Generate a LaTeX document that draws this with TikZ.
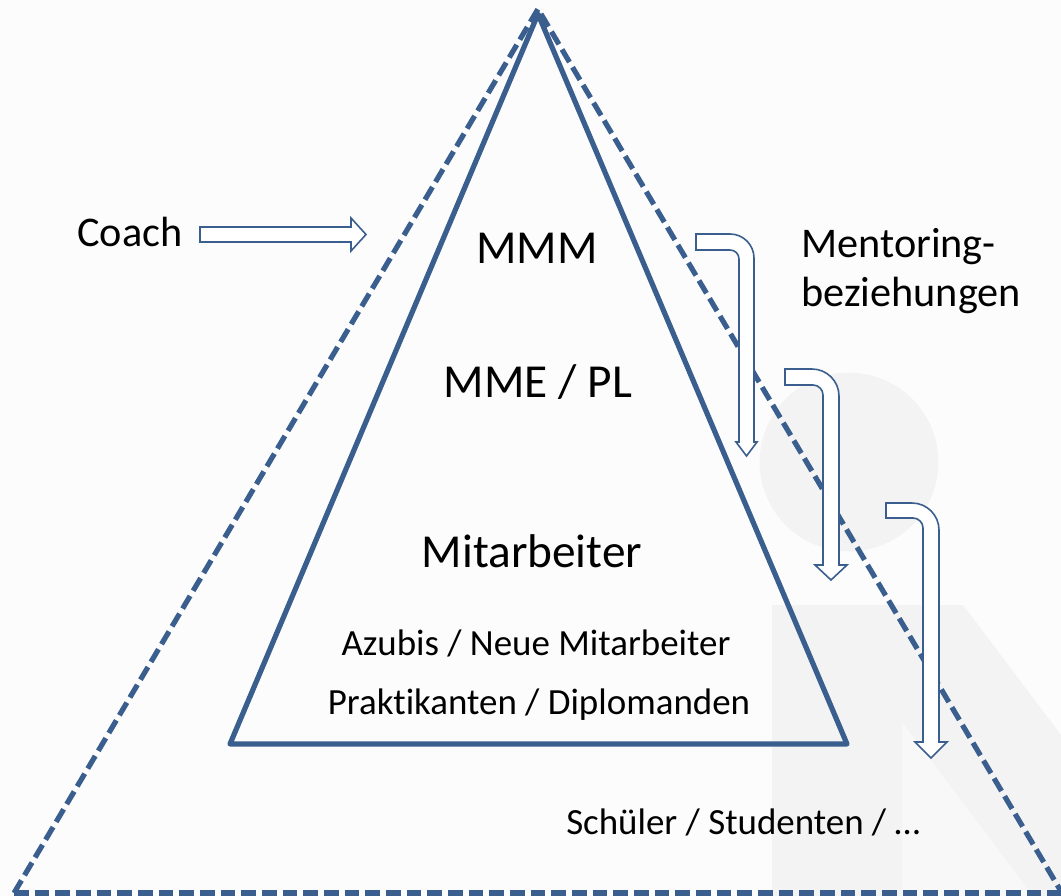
\documentclass[tikz,border=0pt]{standalone}
\usepackage{fontspec}
\setmainfont{Carlito}[Ligatures=NoCommon]
\definecolor{linecol}{HTML}{3A5F8E}
\definecolor{paper}{HTML}{FCFCFC}
\definecolor{logo}{HTML}{F3F3F3}
\definecolor{logopale}{HTML}{F8F8F8}
\tikzset{
  triline/.style={draw=linecol, line width=3.9pt, line join=round},
  dashline/.style={triline, dash pattern=on 11pt off 4.5pt},
  blockarrow/.style={draw=linecol, fill=white, line width=1.2pt, line join=miter},
  bigtext/.style={font=\fontsize{35.5}{40}\selectfont, inner sep=0pt},
  midtext/.style={font=\fontsize{31.7}{36}\selectfont, inner sep=0pt},
  smalltext/.style={font=\fontsize{27.7}{32}\selectfont, inner sep=0pt}
}
\begin{document}
\begin{tikzpicture}[x=0.75pt, y=-0.75pt]
  % page
  \fill[paper] (0,0) rectangle (1061,896);
  \useasboundingbox (0,0) rectangle (1061,896);

  % faint logo in the background
  \fill[logo] (849,462) circle[radius=67pt];
  \fill[logo] (772,605) -- (963,605) -- (1061,735) -- (1061,896) -- (772,896) -- cycle;
  \fill[logopale] (902,722) -- (1033,896) -- (902,896) -- cycle;

  % outer (dashed) and inner pyramid
  \coordinate (oTop) at (538,9);
  \coordinate (oLeft) at (14,893);
  \coordinate (oRight) at (1062,893);
  \coordinate (iTop) at (538,14);
  \coordinate (iLeft) at (230,744);
  \coordinate (iRight) at (847,744);
  \draw[dashline] (oLeft) -- (oTop) -- (oRight);
  \draw[dashline] (oLeft) -- (oRight);
  \draw[triline] (iTop) -- (iRight) -- (iLeft) -- cycle;

  % coach arrow
  \draw[blockarrow] (200,227) -- (351,227) -- (351,218) -- (366,234.5)
    -- (351,251) -- (351,242) -- (200,242) -- cycle;

  % mentoring arrows
  \draw[blockarrow] (696,234) -- (730,234) .. controls (743.2,234) and (754,244.8) .. (754,258)
    -- (754,442) -- (757,442) -- (746.5,456) -- (736,442) -- (739,442)
    -- (739,259) .. controls (739,254) and (735,250) .. (730,250) -- (696,250) -- cycle;
  \draw[blockarrow] (785,369) -- (812,369) .. controls (826.85,369) and (839,381.15) .. (839,396)
    -- (839,565) -- (847,565) -- (831,580) -- (815,565) -- (823,565)
    -- (823,395) .. controls (823,389.5) and (818.5,385) .. (813,385) -- (785,385) -- cycle;
  \draw[blockarrow] (886,503) -- (912,503) .. controls (926.85,503) and (939,515.15) .. (939,530)
    -- (939,742) -- (947,742) -- (931,758) -- (915,742) -- (923,742)
    -- (923,528) .. controls (923,522.5) and (918.5,518) .. (913,518) -- (886,518) -- cycle;

  % labels
  \node[midtext, anchor=base west] (coach) at (77,246) {Coach};
  \node[bigtext, anchor=base] (mmm) at (537,263) {MMM};
  \node[bigtext, anchor=base] (mme) at (538,397) {MME / PL};
  \node[bigtext, anchor=base] (staff) at (532,567) {Mitarbeiter};
  \node[smalltext, anchor=base] (azubi) at (536,655) {Azubis / Neue Mitarbeiter};
  \node[smalltext, anchor=base] (intern) at (539,714) {Praktikanten / Diplomanden};
  \node[midtext, anchor=base west] (mentorA) at (801,257) {Mentoring-};
  \node[midtext, anchor=base west] (mentorB) at (801,306) {beziehungen};
  \node[smalltext, anchor=base west] (pupils) at (566,834) {Schüler / Studenten / …};
\end{tikzpicture}
\end{document}
